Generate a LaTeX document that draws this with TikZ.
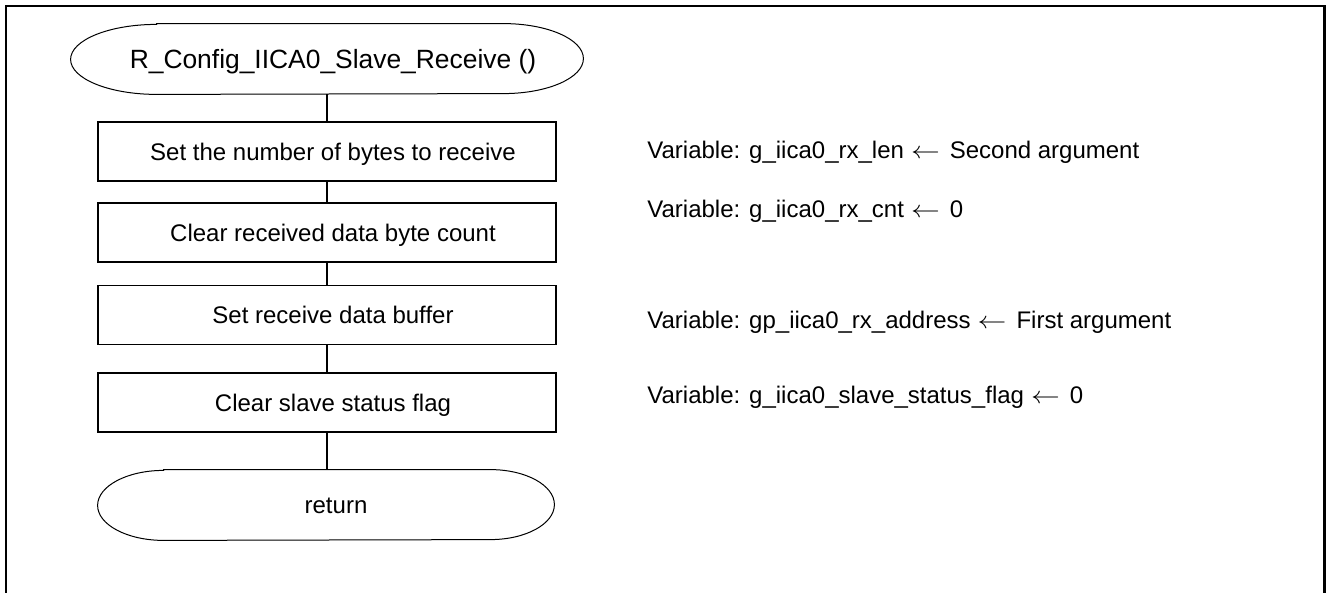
\documentclass[tikz,border=0pt]{standalone}
\usepackage{fontspec}
\usepackage{graphicx}
\setmainfont{Liberation Sans}
\usetikzlibrary{calc}
\newcommand{\larr}{\hspace{3.5pt}\scalebox{1.2}[1]{$\leftarrow$}\hspace{5pt}}
\begin{document}
\begin{tikzpicture}[x=0.5pt,y=-0.5pt,
  boxtext/.style={font=\fontsize{12pt}{14pt}\selectfont, text height=8.6pt, text depth=0pt, inner sep=0pt},
  procbox/.style={boxtext, draw, line width=0.65pt, minimum width=229pt, minimum height=29.5pt, execute at begin node={\hspace*{6pt}}},
  termnode/.style={boxtext, minimum height=35pt, inner sep=0pt},
  termline/.style={line width=0.5pt},
  flow/.style={line width=1pt},
  vartext/.style={font=\fontsize{12pt}{14pt}\selectfont, anchor=base west, inner sep=0pt},
  frameline/.style={line width=1.2pt, line join=miter}]
\useasboundingbox (0,0) rectangle (1326,593);
\draw[frameline] (6,593) -- (6,6) -- (1324.6,6) -- (1324.6,593);

% nodes
\node[termnode, minimum width=256pt, font=\fontsize{13.2pt}{15pt}\selectfont, text height=9.4pt, execute at begin node={\hspace*{6pt}}] (t0) at (327,59) {R\_Config\_IICA0\_Slave\_Receive ()};
\node[procbox] (b1) at (327,151.5) {Set the number of bytes to receive};
\node[procbox] (b2) at (327,232.5) {Clear received data byte count};
\node[procbox] (b3) at (327,315) {Set receive data buffer};
\node[procbox] (b4) at (327,402.5) {Clear slave status flag};
\node[termnode, minimum width=228pt, execute at begin node={\hspace*{10pt}}] (t1) at (326,505) {return};

% terminal outlines
\draw[termline] ($(t0.north west)+(86,0)$) -- ($(t0.north east)+(-80,0)$)
  arc[start angle=-90,end angle=90,x radius=80,y radius=35]
  -- ($(t0.south west)+(86,0)$)
  arc[start angle=90,end angle=270,x radius=86,y radius=35] -- cycle;
\draw[termline] ($(t1.north west)+(66,0)$) -- ($(t1.north east)+(-64,0)$)
  arc[start angle=-90,end angle=90,x radius=64,y radius=35]
  -- ($(t1.south west)+(66,0)$)
  arc[start angle=90,end angle=270,x radius=66,y radius=35] -- cycle;

% connectors
\draw[flow] (t0.south) -- (b1.north);
\draw[flow] (b1.south) -- (b2.north);
\draw[flow] (b2.south) -- (b3.north);
\draw[flow] (b3.south) -- (b4.north);
\draw[flow] (b4.south) -- (b4.south |- t1.north);

% variable notes
\node[vartext] (v1) at (647,159) {Variable: g\_iica0\_rx\_len\larr Second argument};
\node[vartext] (v2) at (647,218) {Variable: g\_iica0\_rx\_cnt\larr 0};
\node[vartext] (v3) at (647,328) {Variable: gp\_iica0\_rx\_address\larr First argument};
\node[vartext] (v4) at (647,403) {Variable: g\_iica0\_slave\_status\_flag\larr 0};
\end{tikzpicture}
\end{document}
